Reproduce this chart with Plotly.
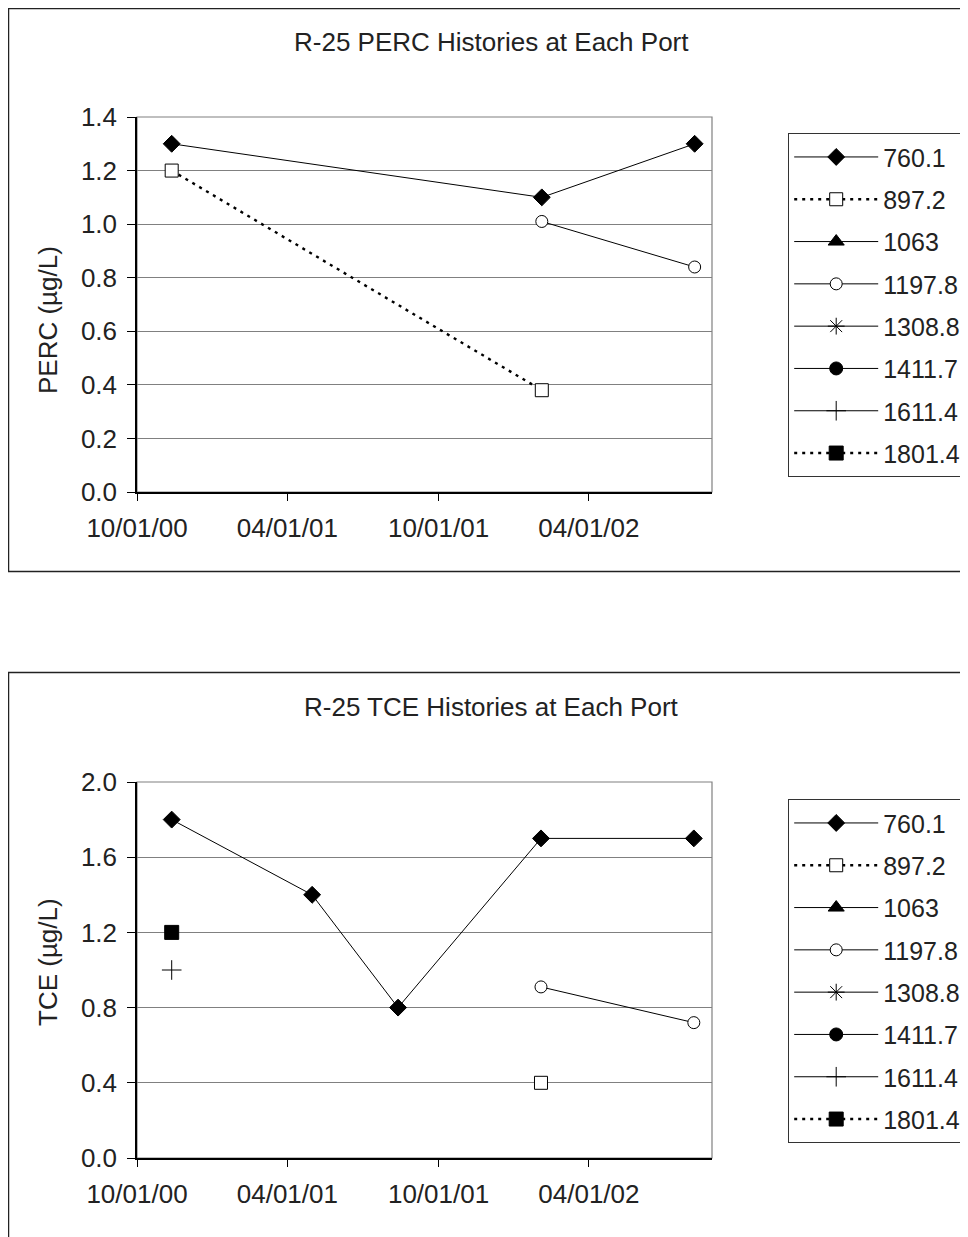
import plotly.graph_objects as go

W, H = 968, 1237

# ---------------- data ----------------
series_names = ["760.1", "897.2", "1063", "1197.8", "1308.8", "1411.7", "1611.4", "1801.4"]

# PERC chart (top)
perc_760_x = ["2000-11-12", "2002-02-03", "2002-08-07"]
perc_760_y = [1.3, 1.1, 1.3]
perc_897_x = ["2000-11-12", "2002-02-03"]
perc_897_y = [1.2, 0.38]
perc_1197_x = ["2002-02-03", "2002-08-07"]
perc_1197_y = [1.01, 0.84]

# TCE chart (bottom)
tce_760_x = ["2000-11-12", "2001-05-01", "2001-08-13", "2002-02-02", "2002-08-06"]
tce_760_y = [1.8, 1.4, 0.8, 1.7, 1.7]
tce_897_x = ["2002-02-02"]
tce_897_y = [0.4]
tce_1197_x = ["2002-02-02", "2002-08-06"]
tce_1197_y = [0.91, 0.72]
tce_1611_x = ["2000-11-12"]
tce_1611_y = [1.0]
tce_1801_x = ["2000-11-12"]
tce_1801_y = [1.2]

x_tickvals = ["2000-10-01", "2001-04-01", "2001-10-01", "2002-04-01"]
x_ticktext = ["10/01/00", "04/01/01", "10/01/01", "04/01/02"]
x_range = ["2000-10-01", "2002-08-28"]

titles = ["R-25 PERC Histories at Each Port", "R-25 TCE Histories at Each Port"]
ytitles = ["PERC (µg/L)", "TCE (µg/L)"]

# ---------------- styles ----------------
FONT = "Arial, Liberation Sans, Helvetica, sans-serif"
FS = 26
LFS = 25
TXT = "#222222"
DOT = "3px,5px"
styles = {
    "760.1": dict(symbol="diamond", size=13, color="black", line=dict(color="black", width=1), dash="solid"),
    "897.2": dict(symbol="square", size=13, color="white", line=dict(color="black", width=1), dash=DOT),
    "1063": dict(symbol="triangle-up", size=14, color="black", line=dict(color="black", width=1), dash="solid"),
    "1197.8": dict(symbol="circle", size=12, color="white", line=dict(color="black", width=1), dash="solid"),
    "1308.8": dict(symbol="asterisk-open", size=14, color="black", line=dict(color="black", width=1), dash="solid"),
    "1411.7": dict(symbol="circle", size=13, color="black", line=dict(color="black", width=1), dash="solid"),
    "1611.4": dict(symbol="cross-thin-open", size=14, color="black", line=dict(color="black", width=1), dash="solid"),
    "1801.4": dict(symbol="square", size=14, color="black", line=dict(color="black", width=1), dash=DOT),
}

top_data = {"760.1": (perc_760_x, perc_760_y), "897.2": (perc_897_x, perc_897_y),
            "1197.8": (perc_1197_x, perc_1197_y)}
bot_data = {"760.1": (tce_760_x, tce_760_y), "897.2": (tce_897_x, tce_897_y),
            "1197.8": (tce_1197_x, tce_1197_y), "1611.4": (tce_1611_x, tce_1611_y),
            "1801.4": (tce_1801_x, tce_1801_y)}

OFF = 8  # page body margin in the browser


def px(x):
    return (x - OFF) / W


def py(y):
    return 1 - (y - OFF) / H


fig = go.Figure()

for k, (data, xa, ya, leg) in enumerate([(top_data, "x", "y", "legend"), (bot_data, "x2", "y2", "legend2")]):
    for name in series_names:
        st = styles[name]
        # series without samples still get a legend entry (a single missing value)
        xs, ys = data.get(name, ([x_range[0]], [None]))
        lw = 2.4 if st["dash"] == DOT else 1
        fig.add_trace(go.Scatter(
            x=xs, y=ys, name=name, mode="lines+markers",
            xaxis=xa, yaxis=ya, legend=leg, legendgroup=f"{k}-{name}",
            line=dict(color="black", width=lw, dash=st["dash"]),
            marker=dict(symbol=st["symbol"], size=st["size"], color=st["color"],
                        line=st["line"]),
            cliponaxis=False,
        ))

# geometry in pixels (screen coordinates)
plot_l, plot_r = 137, 712
plot_tops = [117, 782]
plot_bots = [492, 1158]

axis_common = dict(showline=True, linecolor="black", linewidth=1.5, ticks="outside",
                   tickcolor="black", tickwidth=1.2, zeroline=False,
                   tickfont=dict(family=FONT, size=FS, color=TXT))

for i, (xa, ya) in enumerate([("xaxis", "yaxis"), ("xaxis2", "yaxis2")]):
    fig.layout[xa] = dict(type="date", range=x_range, tickvals=x_tickvals, ticktext=x_ticktext,
                          domain=[px(plot_l), px(plot_r)], showgrid=False, ticklen=7,
                          ticklabelstandoff=5, anchor="y" if i == 0 else "y2", **axis_common)
    yr = [0, 1.4] if i == 0 else [0, 2.0]
    dt = 0.2 if i == 0 else 0.4
    fig.layout[ya] = dict(range=yr, dtick=dt, tickformat=".1f",
                          domain=[py(plot_bots[i]), py(plot_tops[i])],
                          showgrid=True, gridcolor="#808080", gridwidth=1, ticklen=8,
                          ticklabelstandoff=5, anchor="x" if i == 0 else "x2", **axis_common)

shapes = []
# outer boxes
shapes.append(dict(type="rect", xref="paper", yref="paper", x0=px(8.5), x1=px(990),
                   y0=py(571.5), y1=py(8.5), line=dict(color="#222222", width=1.5), layer="below"))
shapes.append(dict(type="rect", xref="paper", yref="paper", x0=px(8.5), x1=px(990),
                   y0=py(1260), y1=py(672.5), line=dict(color="#222222", width=1.5), layer="below"))
# plot area borders (grey)
for xd, yd in [("x domain", "y domain"), ("x2 domain", "y2 domain")]:
    shapes.append(dict(type="rect", xref=xd, yref=yd, x0=0, x1=1, y0=0, y1=1,
                       line=dict(color="#808080", width=1.2), layer="below"))
fig.update_layout(shapes=shapes)

annotations = []
title_y = [42, 707]
ytitle_y = [320, 962]
for i in range(2):
    annotations.append(dict(text=titles[i], xref="paper", yref="paper", x=px(491), y=py(title_y[i]),
                            showarrow=False, xanchor="center", yanchor="middle",
                            font=dict(family=FONT, size=FS, color=TXT)))
    annotations.append(dict(text=ytitles[i], xref="paper", yref="paper", x=px(48), y=py(ytitle_y[i]),
                            showarrow=False, xanchor="center", yanchor="middle", textangle=-90,
                            font=dict(family=FONT, size=FS, color=TXT)))
fig.update_layout(annotations=annotations)

legend_common = dict(xanchor="left", yanchor="top", bgcolor="white", bordercolor="#333333",
                     borderwidth=1.2, font=dict(family=FONT, size=LFS, color=TXT),
                     tracegroupgap=6.8, itemwidth=84, traceorder="grouped")
fig.update_layout(
    legend=dict(x=px(788), y=py(133), **legend_common),
    legend2=dict(x=px(788), y=py(799), **legend_common),
)

fig.update_layout(width=W, height=H, margin=dict(l=0, r=0, t=0, b=0, autoexpand=False),
                  paper_bgcolor="white", plot_bgcolor="white", showlegend=True)

fig.write_html("out.html")
